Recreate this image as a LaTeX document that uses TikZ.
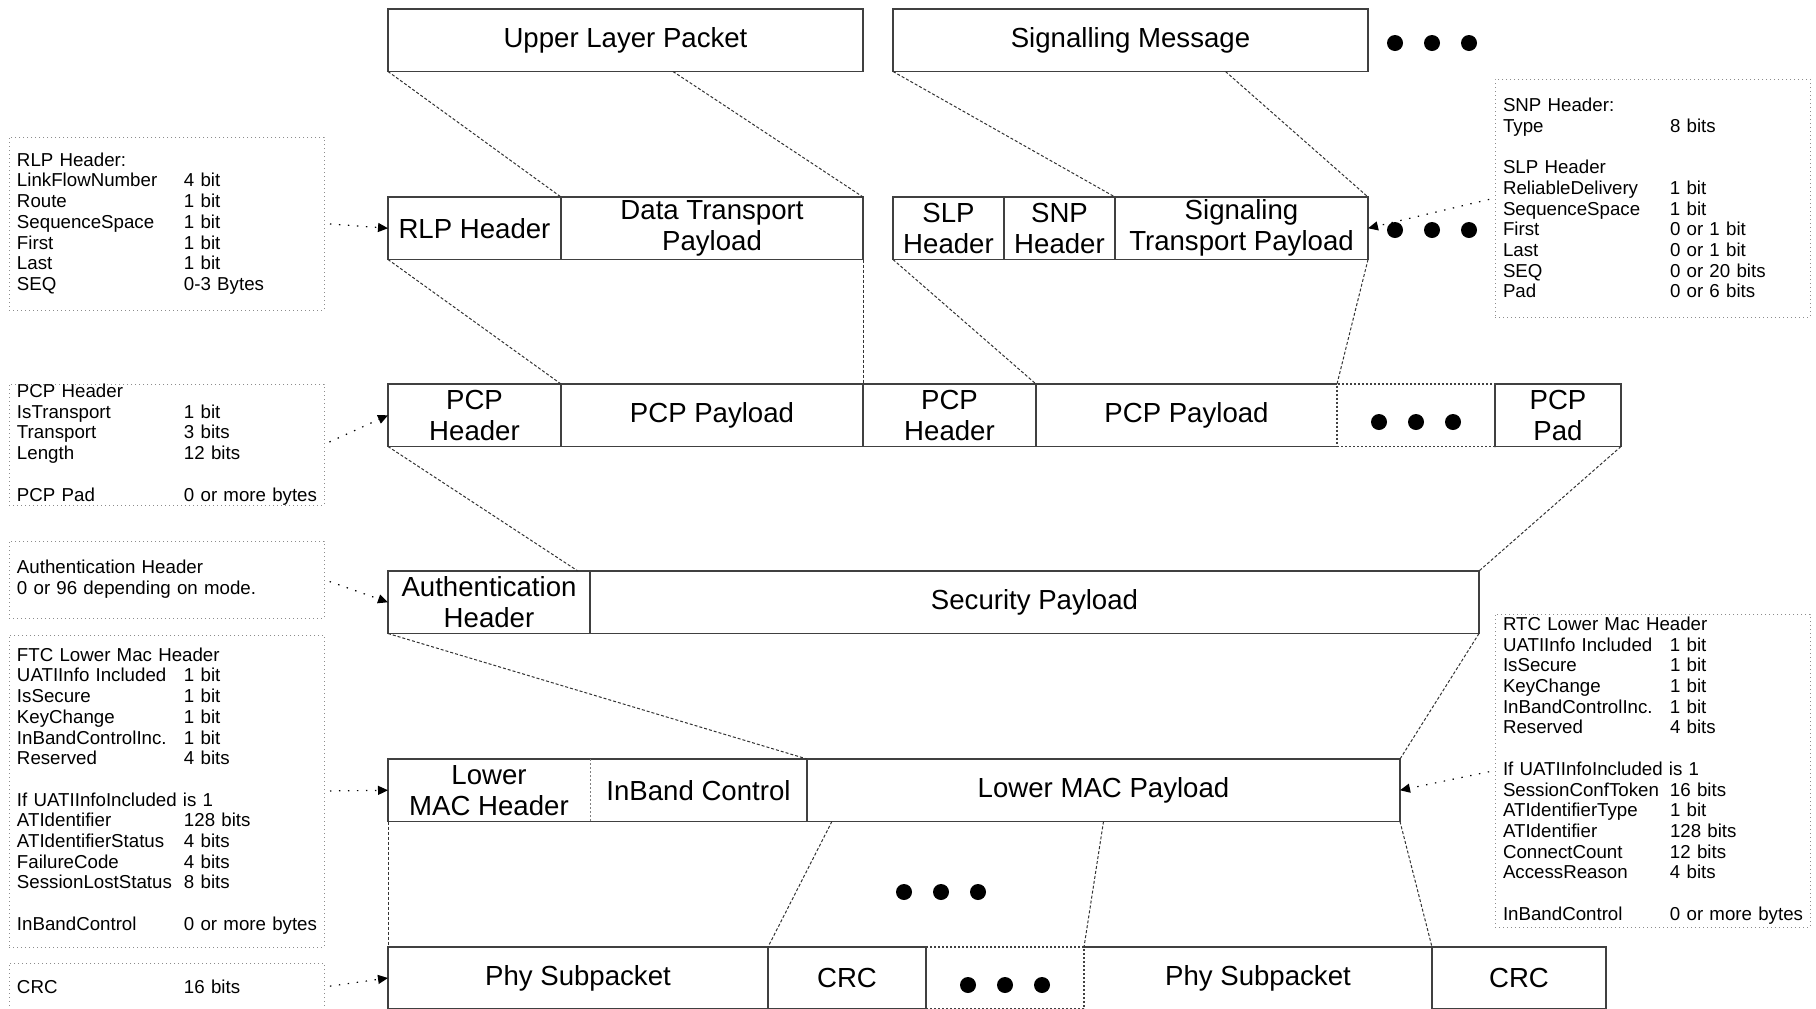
\documentclass[tikz,border=0pt]{standalone}
\usepackage{fontspec}
\setmainfont{Liberation Sans}
\usetikzlibrary{arrows.meta, positioning, calc}

\newcommand{\fld}[2]{\makebox[83.5pt][l]{#1}\mbox{#2}}

\tikzset{
    boxline/.style={draw=black!75, line width=0.8pt},
    pkt/.style={boxline, inner sep=0pt, outer sep=0pt, minimum height=31.25pt,
        align=center, font=\fontsize{13.8}{15.5}\selectfont},
    bare/.style={pkt, draw=none},
    gapbox/.style={pkt, dash pattern=on 1pt off 1pt},
    seg/.style={minimum width=#1*0.5pt},
    ht/.style={minimum height=#1*0.5pt},
    info/.style={draw=black!45, line width=0.5pt, dash pattern=on 0.6pt off 1.4pt,
        inner xsep=4pt, inner ysep=0pt, outer sep=0pt, text width=149.5pt,
        minimum width=157.5pt, align=left, font=\fontsize{9.35}{10.35}\selectfont},
    link/.style={draw=black!80, line width=0.5pt, dash pattern=on 1.5pt off 1pt},
    note/.style={->, line width=0.6pt, dash pattern=on 0.7pt off 3.8pt, shorten <=3pt},
}

\begin{document}
\begin{tikzpicture}[x=0.5pt, y=-0.5pt, >={Triangle[length=5pt, width=4.5pt]}]
    \useasboundingbox (0,0) rectangle (1816,1008);

    % Upper layer
    \node[pkt, seg=475, anchor=north west] (ulp) at (388,9) {Upper Layer Packet};
    \node[pkt, seg=475, right=15pt of ulp] (sigmsg) {Signalling Message};

    % RLP and SLP/SNP
    \node[pkt, seg=173, anchor=north west] (rlphdr) at (388,197) {RLP Header};
    \node[pkt, seg=302, right=0pt of rlphdr] (dtpay) {Data Transport\\Payload};
    \node[pkt, seg=111, right=15pt of dtpay] (slphdr) {SLP\\Header};
    \node[pkt, seg=111, right=0pt of slphdr] (snphdr) {SNP\\Header};
    \node[pkt, seg=253, right=0pt of snphdr] (sigpay) {Signaling\\Transport Payload};

    % PCP
    \node[pkt, seg=173, anchor=north west] (pcphdrA) at (388,384) {PCP\\Header};
    \node[pkt, seg=302, right=0pt of pcphdrA] (pcppayA) {PCP Payload};
    \node[pkt, seg=173, right=0pt of pcppayA] (pcphdrB) {PCP\\Header};
    \node[bare, seg=301, right=0pt of pcphdrB] (pcppayB) {PCP Payload};
    \draw[boxline] (pcppayB.north west) -- (pcppayB.north east)
        (pcppayB.south west) -- (pcppayB.south east);
    \node[gapbox, seg=158, right=0pt of pcppayB] (pcpdots) {};
    \node[pkt, seg=126, right=0pt of pcpdots] (pcppad) {PCP\\Pad};

    % Security
    \node[pkt, seg=202, anchor=north west] (authhdr) at (388,571) {Authentication\\Header};
    \node[pkt, seg=889, right=0pt of authhdr] (secpay) {Security Payload};

    % Lower MAC
    \node[bare, seg=202, anchor=north west] (lmachdr) at (388,759) {Lower\\MAC Header};
    \node[bare, seg=217, right=0pt of lmachdr] (inband) {InBand Control};
    \draw[boxline] (lmachdr.north west) rectangle (inband.south east);
    \draw[draw=black!50, line width=0.5pt, dash pattern=on 1pt off 1pt]
        (inband.north west) -- (inband.south west);
    \node[pkt, seg=593, right=0pt of inband] (lmacpay) {Lower MAC Payload};

    % Physical layer
    \node[pkt, seg=380, ht=62, anchor=north west] (phyA) at (388,947) {Phy Subpacket};
    \node[pkt, seg=158, ht=62, right=0pt of phyA] (crcA) {CRC};
    \node[gapbox, seg=158, ht=62, right=0pt of crcA] (phydots) {};
    \node[bare, seg=348, ht=62, right=0pt of phydots] (phyB) {Phy Subpacket};
    \draw[boxline] (phyB.north west) -- (phyB.north east);
    \node[pkt, seg=174, ht=62, right=0pt of phyB] (crcB) {CRC};

    % Ellipses
    \foreach \cx/\cy in {1432/43, 1432/230, 1416/422, 941/892, 1005/985}
        \foreach \dx in {-37,0,37}
            \fill (\cx+\dx,\cy) circle[radius=4pt];

    % Layer mapping
    \draw[link] (ulp.south west) -- (rlphdr.north east);
    \draw[link] ($(ulp.south west)!.6!(ulp.south east)$) -- (dtpay.north east);
    \draw[link] (sigmsg.south west) -- (snphdr.north east);
    \draw[link] ($(sigmsg.south west)!.7!(sigmsg.south east)$) -- (sigpay.north east);
    \draw[link] (rlphdr.south west) -- (pcppayA.north west);
    \draw[link] (dtpay.south east) -- (pcphdrB.north west);
    \draw[link] (slphdr.south west) -- (pcppayB.north west);
    \draw[link] (sigpay.south east) -- (pcpdots.north west);
    \draw[link] (pcphdrA.south west) -- ($(authhdr.north west)!.94!(authhdr.north east)$);
    \draw[link] (pcppad.south east) -- (secpay.north east);
    \draw[link] (authhdr.south west) -- (lmacpay.north west);
    \draw[link] (secpay.south east) -- (lmacpay.north east);
    \draw[link] (lmachdr.south west) -- (phyA.north west);
    \draw[link] ($(lmacpay.south west)!.042!(lmacpay.south east)$) -- (crcA.north west);
    \draw[link] (lmacpay.south) -- (phyB.north west);
    \draw[link] (lmacpay.south east) -- (crcB.north west);

    % Field notes, left side
    \node[info, ht=173, anchor=north west] (rlpinfo) at (9,137) {RLP Header:\\
        \fld{LinkFlowNumber}{4 bit}\\ \fld{Route}{1 bit}\\ \fld{SequenceSpace}{1 bit}\\
        \fld{First}{1 bit}\\ \fld{Last}{1 bit}\\ \fld{SEQ}{0-3 Bytes}};
    \node[info, ht=121, anchor=north west] (pcpinfo) at (9,384) {PCP Header\\
        \fld{IsTransport}{1 bit}\\ \fld{Transport}{3 bits}\\ \fld{Length}{12 bits}\\ ~\\
        \fld{PCP Pad}{0 or more bytes}};
    \node[info, ht=77, anchor=north west] (authinfo) at (9,541) {Authentication Header\\
        0 or 96 depending on mode.};
    \node[info, ht=312, anchor=north west] (ftcinfo) at (9,635) {FTC Lower Mac Header\\
        \fld{UATIInfo Included}{1 bit}\\ \fld{IsSecure}{1 bit}\\ \fld{KeyChange}{1 bit}\\
        \fld{InBandControlInc.}{1 bit}\\ \fld{Reserved}{4 bits}\\ ~\\
        If UATIInfoIncluded is 1\\ \fld{ATIdentifier}{128 bits}\\
        \fld{ATIdentifierStatus}{4 bits}\\ \fld{FailureCode}{4 bits}\\
        \fld{SessionLostStatus}{8 bits}\\ ~\\ \fld{InBandControl}{0 or more bytes}};
    \node[info, ht=48, anchor=north west] (crcinfo) at (9,963) {\fld{CRC}{16 bits}};

    % Field notes, right side
    \node[info, ht=238, anchor=north west] (snpinfo) at (1495,79) {SNP Header:\\
        \fld{Type}{8 bits}\\ ~\\ SLP Header\\ \fld{ReliableDelivery}{1 bit}\\
        \fld{SequenceSpace}{1 bit}\\ \fld{First}{0 or 1 bit}\\ \fld{Last}{0 or 1 bit}\\
        \fld{SEQ}{0 or 20 bits}\\ \fld{Pad}{0 or 6 bits}};
    \node[info, ht=313, anchor=north west] (rtcinfo) at (1495,614) {RTC Lower Mac Header\\
        \fld{UATIInfo Included}{1 bit}\\ \fld{IsSecure}{1 bit}\\ \fld{KeyChange}{1 bit}\\
        \fld{InBandControlInc.}{1 bit}\\ \fld{Reserved}{4 bits}\\ ~\\
        If UATIInfoIncluded is 1\\ \fld{SessionConfToken}{16 bits}\\
        \fld{ATIdentifierType}{1 bit}\\ \fld{ATIdentifier}{128 bits}\\
        \fld{ConnectCount}{12 bits}\\ \fld{AccessReason}{4 bits}\\ ~\\
        \fld{InBandControl}{0 or more bytes}};

    % Notes point at their fields
    \draw[note] (rlpinfo.east) -- (rlphdr.west);
    \draw[note] (pcpinfo.east) -- (pcphdrA.west);
    \draw[note] (authinfo.east) -- (authhdr.west);
    \draw[note] (ftcinfo.east) -- (lmachdr.west);
    \draw[note] (crcinfo.east) -- (phyA.west);
    \draw[note] (snpinfo.west) -- (sigpay.east);
    \draw[note] (rtcinfo.west) -- (lmacpay.east);
\end{tikzpicture}
\end{document}
